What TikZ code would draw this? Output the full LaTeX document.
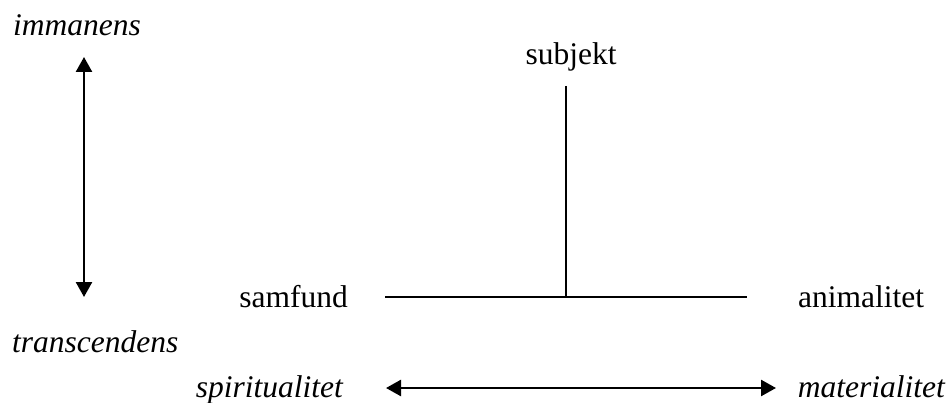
\documentclass[tikz,border=0pt]{standalone}
\usepackage{fontspec}
\setmainfont{Liberation Serif}
\usetikzlibrary{arrows.meta}
\begin{document}
\begin{tikzpicture}[x=1pt,y=-1pt,
  lbl/.style={inner sep=0pt,font=\fontsize{31.5}{36}\selectfont},
  ilbl/.style={lbl,font=\fontsize{31.5}{36}\selectfont\itshape},
  tip/.style={Triangle[length=15pt,width=16pt]},
  axis/.style={line width=2.5pt,{Triangle[length=15pt,width=16pt]}-{Triangle[length=15pt,width=16pt]}},
  rule/.style={line width=2pt}]
\useasboundingbox (0,0) rectangle (947,403);
% vertical scale: immanens / transcendens
\node[ilbl,anchor=base west] (imm) at (13,36) {immanens};
\node[ilbl,anchor=base west] (tra) at (12,352) {transcendens};
\coordinate (vtop) at (84,57);
\coordinate (vbot) at (84,297);
\draw[axis] (vtop) -- (vbot);
% horizontal scale: spiritualitet / materialitet
\node[ilbl,anchor=base east] (spi) at (343,397) {spiritualitet};
\node[ilbl,anchor=base east] (mat) at (945,397) {materialitet};
\coordinate (hl) at (386,388);
\coordinate (hr) at (776,388);
\draw[axis] (hl) -- (hr);
% the T figure
\node[lbl,anchor=base] (sub) at (571,65) {subjekt};
\node[lbl,anchor=base east] (sam) at (348,307) {samfund};
\node[lbl,anchor=base west] (ani) at (798,307) {animalitet};
\coordinate (tl) at (385,297);
\coordinate (tr) at (747,297);
\coordinate (tt) at (566,86);
\coordinate (tm) at (566,297);
\draw[rule] (tl) -- (tr);
\draw[rule] (tt) -- (tm);
\end{tikzpicture}
\end{document}
